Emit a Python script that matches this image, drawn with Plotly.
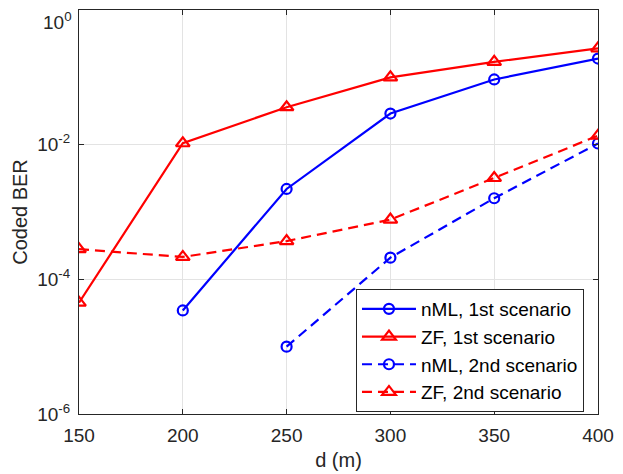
import plotly.graph_objects as go

nml_1st_x = [200, 250, 300, 350, 400]
nml_1st = [3.45e-5, 2.2e-3, 2.9e-2, 9.3e-2, 0.19]
zf_1st_x = [150, 200, 250, 300, 350, 400]
zf_1st = [4.5e-5, 1.05e-2, 3.6e-2, 0.1, 0.17, 0.27]
nml_2nd_x = [250, 300, 350, 400]
nml_2nd = [1.0e-5, 2.1e-4, 1.6e-3, 1.04e-2]
zf_2nd_x = [150, 200, 250, 300, 350, 400]
zf_2nd = [2.8e-4, 2.15e-4, 3.7e-4, 7.7e-4, 3.2e-3, 1.36e-2]

y_tickvals = [1e-6, 1e-4, 1e-2, 1e0]
y_ticktext = ["10<sup>-6</sup>", "10<sup>-4</sup>", "10<sup>-2</sup>", ""]
y_top_label = "10<sup>0</sup>"
x_tickvals = [150, 200, 250, 300, 350, 400]

BLUE = "#0000ff"
RED = "#ff0000"
FONT = "Liberation Sans, Arial, sans-serif"
TXT = "#262626"

fig = go.Figure()
fig.add_trace(go.Scatter(x=nml_1st_x, y=nml_1st, mode="lines+markers", name="nML, 1st scenario",
                         line=dict(color=BLUE, width=2.2),
                         marker=dict(symbol="circle-open", size=10, line=dict(width=2.2, color=BLUE))))
fig.add_trace(go.Scatter(x=zf_1st_x, y=zf_1st, mode="lines+markers", name="ZF, 1st scenario",
                         line=dict(color=RED, width=2.2),
                         marker=dict(symbol="triangle-up-open", size=12, line=dict(width=2.2, color=RED))))
fig.add_trace(go.Scatter(x=nml_2nd_x, y=nml_2nd, mode="lines+markers", name="nML, 2nd scenario",
                         line=dict(color=BLUE, width=2.2, dash="10px,6px"),
                         marker=dict(symbol="circle-open", size=10, line=dict(width=2.2, color=BLUE))))
fig.add_trace(go.Scatter(x=zf_2nd_x, y=zf_2nd, mode="lines+markers", name="ZF, 2nd scenario",
                         line=dict(color=RED, width=2.2, dash="10px,6px"),
                         marker=dict(symbol="triangle-up-open", size=12, line=dict(width=2.2, color=RED))))

axis_common = dict(showline=True, linecolor=TXT, linewidth=1, mirror="ticks",
                   ticks="inside", ticklen=5, tickcolor=TXT,
                   showgrid=True, gridcolor="#e3e3e3", gridwidth=1, zeroline=False,
                   ticklabeloverflow="allow",
                   tickfont=dict(family=FONT, size=19, color=TXT))

fig.update_xaxes(range=[150, 400], tickvals=x_tickvals, ticklabelstandoff=4,
                 title=dict(text="d (m)", font=dict(family=FONT, size=20, color=TXT), standoff=8),
                 **axis_common)
fig.update_yaxes(type="log", range=[-6, 0], tickvals=y_tickvals, ticktext=y_ticktext, ticklabelstandoff=4,
                 title=dict(text="Coded BER", font=dict(family=FONT, size=20, color=TXT), standoff=4),
                 **axis_common)

fig.add_annotation(text=y_top_label, xref="paper", yref="paper", x=0, y=1,
                   xanchor="right", yanchor="middle", xshift=-5, yshift=-11, showarrow=False,
                   font=dict(family=FONT, size=19, color=TXT))

fig.update_layout(
    width=615, height=466,
    margin=dict(l=71, r=25, t=2, b=60),
    paper_bgcolor="white", plot_bgcolor="white",
    font=dict(family=FONT, color=TXT),
    showlegend=True,
    legend=dict(x=0.973, y=0.005, xanchor="right", yanchor="bottom",
                bgcolor="white", bordercolor=TXT, borderwidth=1,
                font=dict(family=FONT, size=19, color="#000000"),
                tracegroupgap=0, itemwidth=54),
)

fig.write_html("out.html")
